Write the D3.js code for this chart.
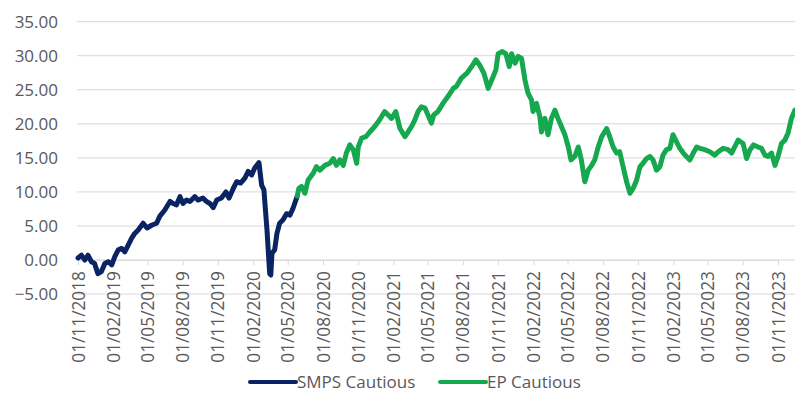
<!DOCTYPE html>
<html>
<head>
<meta charset="utf-8">
<script src="https://cdn.jsdelivr.net/npm/d3@7"></script>
<style>
  body { margin: 0; background: #ffffff; }
  text { font-family: "Open Sans", "Liberation Sans", sans-serif; fill: #595959; }
</style>
</head>
<body>
<div id="chart"></div>
<script>
// values
const SMPS_DATES = ["2018-11-01","2018-11-10","2018-11-19","2018-11-27","2018-12-06","2018-12-14","2018-12-23",
  "2019-01-01","2019-01-10","2019-01-19","2019-01-28","2019-02-05","2019-02-14","2019-02-23","2019-03-03",
  "2019-03-12","2019-03-21","2019-03-29","2019-04-07","2019-04-20","2019-04-30","2019-05-12","2019-05-25",
  "2019-06-02","2019-06-15","2019-06-29","2019-07-07","2019-07-16","2019-07-25","2019-08-02","2019-08-11",
  "2019-08-20","2019-09-02","2019-09-10","2019-09-23","2019-10-02","2019-10-11","2019-10-20","2019-10-29",
  "2019-11-10","2019-11-22","2019-11-30","2019-12-11","2019-12-20","2019-12-30","2020-01-10","2020-01-19",
  "2020-01-28","2020-02-05","2020-02-16","2020-02-23","2020-02-29","2020-03-02","2020-03-08","2020-03-15",
  "2020-03-18","2020-03-21","2020-03-28","2020-04-03","2020-04-10","2020-04-19","2020-04-28","2020-05-07",
  "2020-05-15","2020-05-26"];
const SMPS_VALUES = [0.3,0.7,0.0,0.7,-0.25,-0.5,-2.0,
  -1.7,-0.5,-0.25,-0.7,0.5,1.5,1.7,1.2,
  2.2,3.2,3.9,4.4,5.4,4.7,5.1,5.4,
  6.4,7.3,8.6,8.3,8.1,9.3,8.3,8.8,
  8.6,9.3,8.8,9.1,8.6,8.3,7.7,8.8,
  9.1,10.0,9.1,10.5,11.5,11.3,12.0,13.0,
  12.5,13.5,14.3,11.0,10.3,8.8,4.4,-2.0,
  -2.2,1.0,1.5,3.9,5.4,5.9,6.8,6.6,
  7.6,9.4];

const EP_DATES = ["2020-05-26","2020-05-30","2020-06-06","2020-06-15","2020-06-23","2020-07-06","2020-07-15",
  "2020-07-24","2020-08-06","2020-08-19","2020-08-28","2020-09-05","2020-09-14","2020-09-23","2020-10-01",
  "2020-10-10","2020-10-19","2020-10-28","2020-11-01","2020-11-10","2020-11-21","2020-12-01","2020-12-14",
  "2020-12-27","2021-01-09","2021-01-18","2021-01-27","2021-02-07","2021-02-18","2021-03-03","2021-03-11",
  "2021-03-20","2021-03-29","2021-04-06","2021-04-15","2021-04-24","2021-05-02","2021-05-11","2021-05-17",
  "2021-05-28","2021-06-10","2021-06-23","2021-07-07","2021-07-15","2021-07-28","2021-08-11","2021-08-24",
  "2021-09-04","2021-09-14","2021-09-25","2021-10-06","2021-10-15","2021-10-26","2021-11-01","2021-11-12",
  "2021-11-21","2021-11-30","2021-12-06","2021-12-15","2021-12-23","2022-01-01","2022-01-10","2022-01-18",
  "2022-01-27","2022-01-31","2022-02-09","2022-02-18","2022-02-22","2022-03-03","2022-03-11","2022-03-20",
  "2022-03-29","2022-04-06","2022-04-15","2022-04-24","2022-05-03","2022-05-10","2022-05-20","2022-05-29",
  "2022-06-06","2022-06-15","2022-06-24","2022-07-03","2022-07-11","2022-07-20","2022-07-29","2022-08-11",
  "2022-08-19","2022-08-28","2022-09-06","2022-09-14","2022-09-23","2022-10-02","2022-10-11","2022-10-19",
  "2022-10-28","2022-11-06","2022-11-14","2022-11-23","2022-12-02","2022-12-10","2022-12-19","2022-12-28",
  "2023-01-05","2023-01-14","2023-01-23","2023-01-31","2023-02-09","2023-02-18","2023-02-27","2023-03-07",
  "2023-03-16","2023-03-25","2023-04-03","2023-04-11","2023-04-24","2023-05-07","2023-05-20","2023-05-29",
  "2023-06-11","2023-06-24","2023-07-03","2023-07-11","2023-07-20","2023-08-02","2023-08-11","2023-08-20",
  "2023-08-29","2023-09-10","2023-09-19","2023-09-28","2023-10-06","2023-10-15","2023-10-24","2023-11-01",
  "2023-11-10","2023-11-19","2023-11-27","2023-12-06","2023-12-15"];
const EP_VALUES = [9.4,10.5,10.8,9.8,11.7,12.7,13.7,
  13.2,13.9,14.2,14.9,13.9,14.7,13.9,15.7,
  16.9,16.2,14.2,16.6,17.9,18.1,18.8,19.6,
  20.6,21.8,21.3,20.8,21.8,19.3,18.1,18.8,
  19.6,20.6,21.8,22.5,22.3,21.3,20.1,21.3,
  21.8,23.0,24.0,25.2,25.5,26.7,27.4,28.4,
  29.4,28.6,27.4,25.2,26.4,27.9,30.3,30.6,
  30.3,28.4,30.3,28.9,29.9,29.6,26.4,24.5,
  23.5,21.8,23.0,21.0,18.8,20.8,18.4,20.8,
  22.0,20.8,19.6,18.4,16.6,14.7,15.2,16.6,
  14.7,11.5,13.2,13.9,14.7,16.6,18.1,19.3,
  18.1,16.6,15.7,15.9,13.7,11.5,9.8,10.5,
  11.7,13.7,14.2,14.9,15.2,14.7,13.2,13.7,
  15.4,16.2,16.4,18.4,17.4,16.4,15.7,15.2,
  14.7,15.7,16.6,16.4,16.2,15.9,15.4,15.9,
  16.4,16.2,15.7,16.6,17.6,17.1,14.9,16.2,
  16.9,16.6,16.4,15.4,15.2,15.7,13.9,15.2,
  17.1,17.6,18.6,20.8,22.0];

const Y_TICKS = [-5, 0, 5, 10, 15, 20, 25, 30, 35];
const X_TICKS = ["2018-11-01","2019-02-01","2019-05-01","2019-08-01","2019-11-01","2020-02-01","2020-05-01",
  "2020-08-01","2020-11-01","2021-02-01","2021-05-01","2021-08-01","2021-11-01","2022-02-01","2022-05-01",
  "2022-08-01","2022-11-01","2023-02-01","2023-05-01","2023-08-01","2023-11-01"];
const SERIES_NAMES = ["SMPS Cautious", "EP Cautious"];
const SERIES_COLORS = ["#0a2463", "#16a84f"];

// frame
const FRAME_WIDTH = 795;
const FRAME_HEIGHT = 402;
const PLOT = {left: 77, right: 795, top: 21.65, bottom: 294.05};

const parse = d3.timeParse("%Y-%m-%d");
const fmt = d3.timeFormat("%d/%m/%Y");

const svg = d3.select("#chart")
  .append("svg")
    .attr("width", FRAME_WIDTH)
    .attr("height", FRAME_HEIGHT);

// 01/11/2018 -> x 78, 01/11/2023 -> x 778
const X_SCALE = d3.scaleTime()
  .domain([parse("2018-11-01"), parse("2023-11-01")])
  .range([78, 778]);
const Y_SCALE = d3.scaleLinear()
  .domain([-5, 35])
  .range([PLOT.bottom, PLOT.top]);

// horizontal gridlines
svg.append("g")
  .selectAll("line")
  .data(Y_TICKS)
  .enter()
  .append("line")
    .attr("x1", PLOT.left)
    .attr("x2", PLOT.right)
    .attr("y1", d => Y_SCALE(d))
    .attr("y2", d => Y_SCALE(d))
    .attr("stroke", "#d9d9d9")
    .attr("stroke-width", 1);

// y axis labels
const yAxis = svg.append("g")
  .attr("transform", "translate(58,0)")
  .call(d3.axisLeft(Y_SCALE).tickValues(Y_TICKS).tickFormat(d3.format(".2f")).tickSize(0).tickPadding(0));
yAxis.select(".domain").remove();
yAxis.selectAll("text")
  .attr("font-size", "17px")
  .attr("fill", "#595959")
  .style("font-family", '"Open Sans", sans-serif');

// x axis sits on the zero line
const xAxis = svg.append("g")
  .attr("transform", "translate(0," + Y_SCALE(0) + ")")
  .call(d3.axisBottom(X_SCALE).tickValues(X_TICKS.map(parse)).tickFormat(fmt).tickSize(5).tickSizeOuter(0));
xAxis.select(".domain").attr("stroke", "#d9d9d9");
xAxis.selectAll(".tick line").attr("stroke", "#d9d9d9");
xAxis.selectAll("text")
  .attr("font-size", "17.3px")
  .attr("fill", "#595959")
  .style("font-family", '"Open Sans", sans-serif')
  .attr("text-anchor", "end")
  .attr("transform", "rotate(-90)")
  .attr("x", -11)
  .attr("y", 0)
  .attr("dy", "0.35em");

// lines
const line = d3.line()
  .x(d => X_SCALE(d.date))
  .y(d => Y_SCALE(d.value));

const smps = SMPS_DATES.map((d, i) => ({date: parse(d), value: SMPS_VALUES[i]}));
const ep = EP_DATES.map((d, i) => ({date: parse(d), value: EP_VALUES[i]}));

[smps, ep].forEach((series, i) => {
  svg.append("path")
    .datum(series)
    .attr("d", line)
    .attr("fill", "none")
    .attr("stroke", SERIES_COLORS[i])
    .attr("stroke-width", 5)
    .attr("stroke-linejoin", "round")
    .attr("stroke-linecap", "round");
});

// legend
const LEGEND_X = [250, 440];
const legend = svg.append("g");
SERIES_NAMES.forEach((name, i) => {
  legend.append("line")
    .attr("x1", LEGEND_X[i])
    .attr("x2", LEGEND_X[i] + 46)
    .attr("y1", 382)
    .attr("y2", 382)
    .attr("stroke", SERIES_COLORS[i])
    .attr("stroke-width", 4)
    .attr("stroke-linecap", "round");
  legend.append("text")
    .attr("x", LEGEND_X[i] + 47)
    .attr("y", 382)
    .attr("dy", "0.35em")
    .attr("font-size", "17px")
    .text(name);
});
</script>
</body>
</html>
